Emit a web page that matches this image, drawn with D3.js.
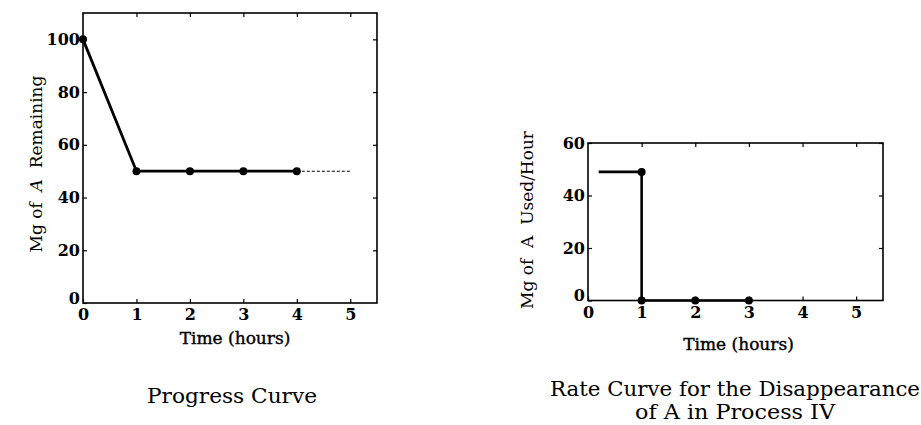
<!DOCTYPE html>
<html>
<head>
<meta charset="utf-8">
<script src="https://cdn.jsdelivr.net/npm/d3@7"></script>
<style>
  body { margin: 0; background: #fff; }
  text { font-family: "DejaVu Serif", "Liberation Serif", serif; fill: #000; }
</style>
</head>
<body>
<svg id="chart" width="921" height="425"></svg>
<script>
// progress curve: mg of A remaining
var progTime = [0, 1, 2, 3, 4];
var progMg = [100, 50, 50, 50, 50];
var progDashTime = [4, 5];
var progDashMg = [50, 50];
var progYTicks = [0, 20, 40, 60, 80, 100];

// rate curve: mg of A used per hour
var rateLineTime = [0.2, 1, 1, 2, 3];
var rateLineMg = [49, 49, 0, 0, 0];
var rateDotTime = [1, 1, 2, 3];
var rateDotMg = [49, 0, 0, 0];
var rateYTicks = [0, 20, 40, 60];

var xTicks = [0, 1, 2, 3, 4, 5];

var svg = d3.select('#chart');

function panel(opt) {
  var x = d3.scaleLinear().domain([0, 5.5]).range([opt.x0, opt.x1]);
  var y = d3.scaleLinear().domain([0, opt.ymax]).range([opt.y0, opt.y1]);
  var g = svg.append('g');

  // axes with inward ticks
  g.append('g').attr('transform', 'translate(0,' + opt.y0 + ')')
    .call(d3.axisBottom(x).tickValues(xTicks).tickFormat(d3.format('d'))
      .tickSizeInner(-4).tickSizeOuter(0).tickPadding(6));
  var left = g.append('g').attr('transform', 'translate(' + opt.x0 + ',0)')
    .call(d3.axisLeft(y).tickValues(opt.yTicks).tickFormat(d3.format('d'))
      .tickSizeInner(-4).tickSizeOuter(0).tickPadding(3));
  left.selectAll('.tick text').filter(function(d) { return d === 0; }).attr('dy', '0.02em');
  g.append('g').attr('transform', 'translate(0,' + opt.y1 + ')')
    .call(d3.axisTop(x).tickValues(xTicks.slice(1)).tickSizeInner(-4).tickSizeOuter(0).tickFormat(''));
  g.append('g').attr('transform', 'translate(' + opt.x1 + ',0)')
    .call(d3.axisRight(y).tickValues(opt.yTicks.slice(1)).tickSizeInner(-4).tickSizeOuter(0).tickFormat(''));
  g.selectAll('.domain').remove();
  g.selectAll('.tick line').attr('stroke', '#000').attr('stroke-width', 1.2);
  g.selectAll('.tick text').attr('font-size', 16).attr('font-weight', 'bold').attr('fill', '#000');

  g.append('rect')
    .attr('x', opt.x0).attr('y', opt.y1)
    .attr('width', opt.x1 - opt.x0).attr('height', opt.y0 - opt.y1)
    .attr('fill', 'none').attr('stroke', '#000').attr('stroke-width', 1.6);

  // axis titles
  g.append('text')
    .attr('x', (opt.x0 + opt.x1) / 2 + opt.xtDx).attr('y', opt.xtY)
    .attr('text-anchor', 'middle').attr('font-size', 17)
    .attr('stroke', '#000').attr('stroke-width', 0.4)
    .text('Time (hours)');
  var yt = g.append('text')
    .attr('transform', 'translate(' + opt.ytX + ',' + opt.ytY + ') rotate(-90)')
    .attr('text-anchor', 'middle').attr('font-size', 17)
    .style('white-space', 'pre');
  yt.append('tspan').text('Mg of  ');
  yt.append('tspan').attr('font-style', opt.italicA ? 'italic' : 'normal').text('A');
  yt.append('tspan').text('  ' + opt.yLabel);

  // caption
  opt.caption.forEach(function(c, i) {
    g.append('text')
      .attr('x', c.cx).attr('y', opt.capY + i * 23)
      .attr('text-anchor', 'middle').attr('font-size', i ? 20 : 21)
      .attr('textLength', c.w).attr('lengthAdjust', 'spacingAndGlyphs')
      .text(c.t);
  });

  return {g: g, x: x, y: y};
}

// ---- left: progress curve
var p1 = panel({
  x0: 83, x1: 377, y0: 303, y1: 13, ymax: 110, yTicks: progYTicks,
  xtY: 344, xtDx: 5, ytX: 42, ytY: 164, italicA: true, yLabel: 'Remaining',
  capY: 403, caption: [{t: 'Progress Curve', cx: 232, w: 170}]
});
var progPts = progTime.map(function(t, i) { return [t, progMg[i]]; });
var dashPts = progDashTime.map(function(t, i) { return [t, progDashMg[i]]; });
var line1 = d3.line().x(function(d) { return p1.x(d[0]); }).y(function(d) { return p1.y(d[1]); });
p1.g.append('path').attr('d', line1(dashPts))
  .attr('fill', 'none').attr('stroke', '#000').attr('stroke-width', 1.1).attr('stroke-dasharray', '3,2');
p1.g.append('path').attr('d', line1(progPts))
  .attr('fill', 'none').attr('stroke', '#000').attr('stroke-width', 2.8);
p1.g.selectAll('circle.pt').data(progPts).enter().append('circle')
  .attr('cx', function(d) { return p1.x(d[0]); }).attr('cy', function(d) { return p1.y(d[1]); })
  .attr('r', 4).attr('fill', '#000');

// ---- right: rate curve
var p2 = panel({
  x0: 588, x1: 883, y0: 300.5, y1: 143, ymax: 60, yTicks: rateYTicks,
  xtY: 350, xtDx: 3, ytX: 533, ytY: 220, italicA: false, yLabel: 'Used/Hour',
  capY: 396, caption: [{t: 'Rate Curve for the Disappearance', cx: 735, w: 370},
                       {t: 'of A in Process IV', cx: 735, w: 200}]
});
var ratePts = rateLineTime.map(function(t, i) { return [t, rateLineMg[i]]; });
var dotPts = rateDotTime.map(function(t, i) { return [t, rateDotMg[i]]; });
var line2 = d3.line().x(function(d) { return p2.x(d[0]); }).y(function(d) { return p2.y(d[1]); });
p2.g.append('path').attr('d', line2(ratePts))
  .attr('fill', 'none').attr('stroke', '#000').attr('stroke-width', 2.6);
p2.g.selectAll('circle.pt').data(dotPts).enter().append('circle')
  .attr('cx', function(d) { return p2.x(d[0]); }).attr('cy', function(d) { return p2.y(d[1]); })
  .attr('r', 4).attr('fill', '#000');
</script>
</body>
</html>
